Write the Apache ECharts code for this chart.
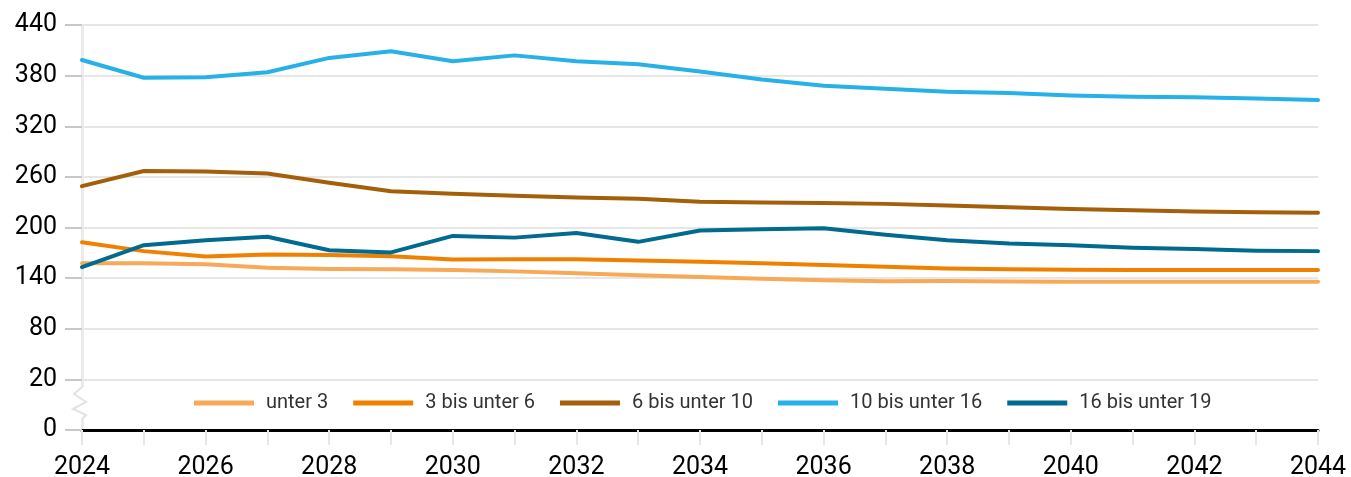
<!DOCTYPE html>
<html>
<head>
<meta charset="utf-8">
<script src="https://cdn.jsdelivr.net/npm/echarts@6/dist/echarts.min.js"></script>
<style>
  html, body { margin: 0; padding: 0; background: #fff; }
  #chart { width: 1351px; height: 477px; }
</style>
</head>
<body>
<div id="chart"></div>
<script>
// Jahre
const years = ["2024", "2025", "2026", "2027", "2028", "2029", "2030", "2031", "2032", "2033", "2034",
  "2035", "2036", "2037", "2038", "2039", "2040", "2041", "2042", "2043", "2044"];

const names = ["unter 3", "3 bis unter 6", "6 bis unter 10", "10 bis unter 16", "16 bis unter 19"];
const colors = ["#f8a957", "#f08100", "#a35f0a", "#27b1e6", "#006a8f"];

const unter3 = [157.6, 157.6, 156.4, 152.4, 150.8, 150.5, 149.7, 148, 145.7, 143.3, 141.4,
  139.4, 137.4, 136.3, 136.5, 136, 135.8, 135.8, 135.8, 135.8, 135.8];
const bis6 = [182.5, 172, 165.5, 168, 167.5, 166, 162, 162.5, 162.5, 161, 159.5,
  157.5, 155.5, 153.5, 151.5, 150.5, 150, 149.7, 149.5, 149.5, 149.5];
const bis10 = [249, 267, 266.5, 264, 253, 243, 240, 237.5, 235.5, 234, 230.5,
  229.5, 229, 228, 226, 224, 222, 220.5, 219, 218, 217.5];
const bis16 = [398.5, 377.5, 378, 384, 401, 409, 397, 404, 397, 393.5, 385,
  375.5, 368, 364.5, 361, 359.5, 356.5, 355, 354.5, 353, 351];
const bis19 = [153, 179, 185, 189, 173, 170.5, 190, 188, 193.5, 183, 196.5,
  198, 199, 191.5, 185, 181, 179, 176, 174.5, 172.5, 172];

// unterste Achsmarke steht für 0 (Achsenbruch)
const yMin = -40;
const yMax = 440;
const yStep = 60;

const allData = [unter3, bis6, bis10, bis16, bis19];

var myChart = echarts.init(document.getElementById("chart"));

var option = {
  animation: false,
  color: colors,
  grid: { left: 82, right: 33, top: 25, bottom: 47, outerBoundsMode: "none" },
  legend: {
    data: names,
    icon: "rect",
    itemWidth: 60,
    itemHeight: 5,
    itemGap: 25,
    left: 194,
    top: 393,
    padding: 0,
    textStyle: {
      fontFamily: "Roboto",
      fontSize: 20,
      color: "#333",
      padding: [0, 0, 0, 7]
    }
  },
  xAxis: {
    type: "category",
    data: years,
    boundaryGap: false,
    axisLine: { onZero: false, lineStyle: { color: "#000", width: 3 } },
    axisTick: { show: true, interval: 0, length: 15, lineStyle: { color: "#e6e6e6", width: 2 } },
    axisLabel: {
      interval: 1,
      margin: 25,
      fontFamily: "Roboto",
      fontSize: 25,
      color: "#000"
    },
    splitLine: { show: false }
  },
  yAxis: {
    type: "value",
    min: yMin,
    max: yMax,
    interval: yStep,
    axisLine: { show: true, lineStyle: { color: "#ebebeb", width: 3 } },
    axisTick: { show: true, length: 17, lineStyle: { color: "#c8c8c8", width: 2 } },
    splitLine: { lineStyle: { color: "#e6e6e6", width: 2 } },
    axisLabel: {
      margin: 25,
      fontFamily: "Roboto",
      fontSize: 25,
      color: "#000",
      formatter: function (v) {
        return v === yMin ? "0" : String(v);
      }
    }
  },
  series: names.map((name, i) => ({
    name: name,
    type: "line",
    data: allData[i],
    symbol: "none",
    lineStyle: { width: 4, cap: "round", join: "round" }
  }))
};

myChart.setOption(option);

// Bruchzeichen auf der y-Achse zwischen 0 und 20
const x0 = myChart.convertToPixel({ xAxisIndex: 0 }, years[0]);
const yb = myChart.convertToPixel({ yAxisIndex: 0 }, yMin);
myChart.setOption({
  graphic: [
    {
      type: "rect",
      z: 100,
      shape: { x: x0 - 3, y: yb - 43, width: 6, height: 32 },
      style: { fill: "#fff" }
    },
    {
      type: "polyline",
      z: 101,
      shape: {
        points: [[x0, yb - 43], [x0 - 8, yb - 36], [x0 + 4, yb - 28], [x0 - 9, yb - 21], [x0 + 4, yb - 15], [x0, yb - 11]]
      },
      style: { stroke: "#e3e3e3", lineWidth: 2, fill: null }
    }
  ]
});
</script>
</body>
</html>
